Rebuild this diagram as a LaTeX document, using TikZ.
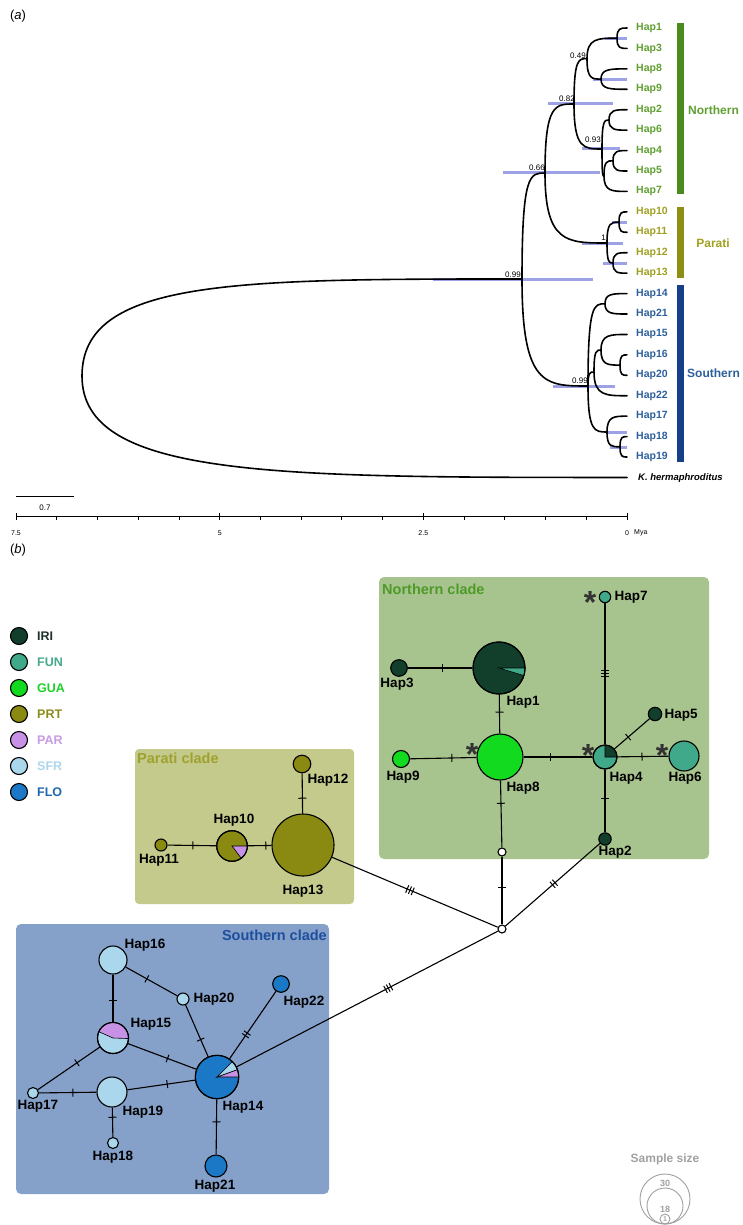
\documentclass[tikz,border=0pt]{standalone}
\usepackage{fontspec}
\setmainfont{Liberation Sans}
\usetikzlibrary{calc,decorations.markings}
\pgfdeclarelayer{bg}
\pgfdeclarelayer{edges}
\pgfsetlayers{bg,edges,main}
\definecolor{cIRI}{HTML}{123F2B}
\definecolor{cFUN}{HTML}{3FA98A}
\definecolor{cGUA}{HTML}{12DA1E}
\definecolor{cPRT}{HTML}{8A8A12}
\definecolor{cPAR}{HTML}{C791E6}
\definecolor{cSFR}{HTML}{AAD7EC}
\definecolor{cFLO}{HTML}{1B78C6}
\definecolor{nTxt}{HTML}{5FA030}
\definecolor{nBar}{HTML}{4C8A1E}
\definecolor{pTxt}{HTML}{A0A020}
\definecolor{pBar}{HTML}{8E8E14}
\definecolor{sTxt}{HTML}{2D5F9B}
\definecolor{sBar}{HTML}{153F88}
\definecolor{hpdc}{HTML}{8C90E2}
\definecolor{boxN}{HTML}{A8C48E}
\definecolor{boxP}{HTML}{C4C98C}
\definecolor{boxS}{HTML}{86A1C9}
\definecolor{ttlN}{HTML}{4E9A28}
\definecolor{ttlP}{HTML}{9FA12E}
\definecolor{ttlS}{HTML}{1D4F9E}
\definecolor{gry}{HTML}{A0A0A0}
\definecolor{lIRI}{HTML}{1F2F2A}
\definecolor{lFUN}{HTML}{46A88C}
\definecolor{lGUA}{HTML}{1ED12A}
\definecolor{lPRT}{HTML}{8C8C1C}
\definecolor{lPAR}{HTML}{C99BE0}
\definecolor{lSFR}{HTML}{ACD6EA}
\definecolor{lFLO}{HTML}{1F67AD}
\newcommand\treebr[2]{\draw[tree] (#1) .. controls (#1 |- #2) and ($(#1 |- #2)!0.35!(#2)$) .. (#2);}
\tikzset{
  tree/.style={line width=1.6pt, line cap=round},
  hpd/.style={line width=3pt, hpdc, opacity=0.85},
  tiplab/.style={anchor=west, inner sep=0pt, font=\fontsize{10.5}{12}\selectfont\bfseries},
  pp/.style={anchor=east, inner sep=0pt, font=\fontsize{8}{9}\selectfont},
  cladelab/.style={inner sep=0pt, font=\fontsize{12}{14}\selectfont\bfseries},
  axlab/.style={inner sep=0pt, font=\fontsize{7}{8}\selectfont},
  hap/.style 2 args={circle, draw=black, line width=1.1pt, fill=#2, minimum size=2*#1, inner sep=0pt},
  hlab/.style={inner sep=0pt, font=\fontsize{13.5}{15}\selectfont\bfseries},
  ttl/.style={inner sep=0pt, font=\fontsize{14.5}{16}\selectfont\bfseries},
  leglab/.style={anchor=west, inner sep=0pt, font=\fontsize{12.5}{14}\selectfont\bfseries},
  astr/.style={anchor=base, inner sep=0pt, text=black!80, font=\fontsize{32}{32}\selectfont\bfseries},
  edge/.style={line width=1.1pt},
  wedge/.style={draw=black, line width=0.6pt},
  onetick/.style={postaction={decorate,decoration={markings,mark=at position #1 with {\draw[line width=1pt] (0pt,-4pt) -- (0pt,4pt);}}}},
  twoticks/.style={postaction={decorate,decoration={markings,mark=at position #1 with {\draw[line width=1pt] (-1.6pt,-4pt) -- (-1.6pt,4pt) (1.6pt,-4pt) -- (1.6pt,4pt);}}}},
  threeticks/.style={postaction={decorate,decoration={markings,mark=at position #1 with {\draw[line width=1pt] (-3pt,-4pt) -- (-3pt,4pt) (0pt,-4pt) -- (0pt,4pt) (3pt,-4pt) -- (3pt,4pt);}}}},
}
\begin{document}
\begin{tikzpicture}[x=1pt,y=-1pt]
\useasboundingbox (0,0) rectangle (742,1225);
% ---------------- (a) tree ----------------
\node[inner sep=0pt, font=\fontsize{13}{15}\selectfont] (pa) at (18,16) {(\textit{a})};
\foreach \i in {0,...,22} \coordinate (t\i) at (627,28+20.43*\i);
\coordinate (n13) at (617,38.2);
\coordinate (n89) at (601,79.1);
\coordinate (n049) at (587,58.6);
\coordinate (n26) at (609,120);
\coordinate (n45) at (613,160.8);
\coordinate (n457) at (604,176);
\coordinate (n093) at (602,149);
\coordinate (n082) at (574,104);
\coordinate (n1011) at (619,222.1);
\coordinate (n1213) at (613,263);
\coordinate (npar) at (607,243);
\coordinate (n066) at (545,173);
\coordinate (n1421) at (605,303.8);
\coordinate (n1620) at (620,365.1);
\coordinate (n15) at (601,350);
\coordinate (nS2) at (594,372);
\coordinate (n1819) at (620,446.8);
\coordinate (n17) at (607,432);
\coordinate (nS) at (588,386);
\coordinate (n099) at (522,279);
\coordinate (root) at (82,376);
% HPD bars
\draw[hpd] (605,38.5) -- (627,38.5);
\draw[hpd] (593,79.5) -- (627,79.5);
\draw[hpd] (548,104) -- (613,104);
\draw[hpd] (582,149) -- (620,149);
\draw[hpd] (503,173) -- (600,173);
\draw[hpd] (612,222.5) -- (627,222.5);
\draw[hpd] (582,243) -- (623,243);
\draw[hpd] (603,263) -- (627,263);
\draw[hpd] (433,279) -- (593,279);
\draw[hpd] (553,386) -- (615,386);
\draw[hpd] (607,432.5) -- (627,432.5);
\draw[hpd] (610,447.5) -- (627,447.5);
% branches
\treebr{n13}{t0}\treebr{n13}{t1}
\treebr{n89}{t2}\treebr{n89}{t3}
\treebr{n049}{n13}\treebr{n049}{n89}
\treebr{n26}{t4}\treebr{n26}{t5}
\treebr{n45}{t6}\treebr{n45}{t7}
\treebr{n457}{n45}\treebr{n457}{t8}
\treebr{n093}{n26}\treebr{n093}{n457}
\treebr{n082}{n049}\treebr{n082}{n093}
\treebr{n1011}{t9}\treebr{n1011}{t10}
\treebr{n1213}{t11}\treebr{n1213}{t12}
\treebr{npar}{n1011}\treebr{npar}{n1213}
\treebr{n066}{n082}\treebr{n066}{npar}
\treebr{n1421}{t13}\treebr{n1421}{t14}
\treebr{n1620}{t16}\treebr{n1620}{t17}
\treebr{n15}{t15}\treebr{n15}{n1620}
\treebr{nS2}{n15}\treebr{nS2}{t18}
\treebr{n1819}{t20}\treebr{n1819}{t21}
\treebr{n17}{t19}\treebr{n17}{n1819}
\treebr{nS}{n1421}\treebr{nS}{nS2}\treebr{nS}{n17}
\treebr{n099}{n066}\treebr{n099}{nS}
\treebr{root}{n099}\treebr{root}{t22}
% posterior labels
\node[pp] (p049) at (586,56) {0.49};
\node[pp] (p082) at (575,99) {0.82};
\node[pp] (p093) at (601,140) {0.93};
\node[pp] (p066) at (545,168) {0.66};
\node[pp] (p1) at (606,238) {1};
\node[pp] (p099a) at (521,275) {0.99};
\node[pp] (p099b) at (588,381) {0.99};
% tip labels
\foreach \lab [count=\i from 0] in {Hap1,Hap3,Hap8,Hap9,Hap2,Hap6,Hap4,Hap5,Hap7}
  \node[tiplab, text=nTxt] (L\i) at (636,28+20.43*\i) {\lab};
\foreach \lab [count=\i from 9] in {Hap10,Hap11,Hap12,Hap13}
  \node[tiplab, text=pTxt] (L\i) at (636,28+20.43*\i) {\lab};
\foreach \lab [count=\i from 13] in {Hap14,Hap21,Hap15,Hap16,Hap20,Hap22,Hap17,Hap18,Hap19}
  \node[tiplab, text=sTxt] (L\i) at (636,28+20.43*\i) {\lab};
\node[anchor=west, inner sep=0pt, font=\fontsize{9.5}{11}\selectfont\bfseries\itshape] (L22) at (638,478) {K. hermaphroditus};
% clade bars
\fill[nBar] (677,23) rectangle (684,194);
\fill[pBar] (677,207) rectangle (684,278);
\fill[sBar] (677,285) rectangle (684,462);
\node[cladelab, text=nTxt, anchor=west] (cN) at (688,110) {Northern};
\node[cladelab, text=pTxt] (cP) at (713,243) {Parati};
\node[cladelab, text=sTxt, anchor=west] (cS) at (687,373) {Southern};
% scale bar and axis
\draw[line width=0.8pt] (16,496) -- (74,496);
\node[inner sep=0pt, font=\fontsize{8}{9}\selectfont] (sb) at (45,508) {0.7};
\draw[line width=0.8pt] (16,516) -- (627,516);
\foreach \i in {0,...,15} \draw[line width=0.8pt] (627-40.733*\i,516) -- ++(0,3.5);
\foreach \i in {0,5,10,15} \draw[line width=0.8pt] (627-40.733*\i,513) -- ++(0,7);
\node[axlab] (ax0) at (627,533) {0};
\node[axlab] (ax1) at (423.3,533) {2.5};
\node[axlab] (ax2) at (219.7,533) {5};
\node[axlab] (ax3) at (16,533) {7.5};
\node[axlab, anchor=west] (axm) at (634,533) {Mya};
% ---------------- (b) network ----------------
\node[inner sep=0pt, font=\fontsize{13}{15}\selectfont] (pb) at (18,550) {(\textit{b})};
% legend
\node[hap={8.5}{cIRI}] (gIRI) at (19,636) {};
\node[hap={8.5}{cFUN}] (gFUN) at (19,662) {};
\node[hap={8.5}{cGUA}] (gGUA) at (19,688) {};
\node[hap={8.5}{cPRT}] (gPRT) at (19,714) {};
\node[hap={8.5}{cPAR}] (gPAR) at (19,740) {};
\node[hap={8.5}{cSFR}] (gSFR) at (19,766) {};
\node[hap={8.5}{cFLO}] (gFLO) at (19,792) {};
\node[leglab, text=lIRI] (tIRI) at (37,636) {IRI};
\node[leglab, text=lFUN] (tFUN) at (37,662) {FUN};
\node[leglab, text=lGUA] (tGUA) at (37,688) {GUA};
\node[leglab, text=lPRT] (tPRT) at (37,714) {PRT};
\node[leglab, text=lPAR] (tPAR) at (37,740) {PAR};
\node[leglab, text=lSFR] (tSFR) at (37,766) {SFR};
\node[leglab, text=lFLO] (tFLO) at (37,792) {FLO};
% clade boxes
\begin{pgfonlayer}{bg}
\fill[boxN, rounded corners=5pt] (379,577) rectangle (709,859);
\fill[boxP, rounded corners=4pt] (135,749) rectangle (354,904);
\fill[boxS, rounded corners=5pt] (16,924) rectangle (329,1194);
\end{pgfonlayer}
\node[ttl, text=ttlN, anchor=west] (tN) at (382,589) {Northern clade};
\node[ttl, text=ttlP, anchor=west] (tP) at (137,758) {Parati clade};
\node[ttl, text=ttlS, anchor=east] (tS) at (327,935) {Southern clade};
% haplotype nodes
\node[hap={26}{cIRI}] (h1) at (499,668) {};
\node[hap={8.3}{cIRI}] (h3) at (399,668) {};
\node[hap={23}{cGUA}] (h8) at (500,757) {};
\node[hap={8.5}{cGUA}] (h9) at (401,759) {};
\node[hap={12}{cFUN}] (h4) at (605,757) {};
\node[hap={15}{cFUN}] (h6) at (684,756) {};
\node[hap={6.7}{cIRI}] (h5) at (655,714) {};
\node[hap={5.7}{cFUN}] (h7) at (605,597) {};
\node[hap={6.2}{cIRI}] (h2) at (605,839) {};
\node[hap={4}{white}] (mv1) at (502,852) {};
\node[hap={4}{white}] (mvc) at (502,929) {};
\node[hap={8.8}{cPRT}] (h12) at (302,764) {};
\node[hap={31}{cPRT}] (h13) at (303,845) {};
\node[hap={15.3}{cPRT}] (h10) at (232,846) {};
\node[hap={6}{cPRT}] (h11) at (161,845) {};
\node[hap={14}{cSFR}] (h16) at (113,960) {};
\node[hap={6}{cSFR}] (h20) at (183,999) {};
\node[hap={8.3}{cFLO}] (h22) at (281,984) {};
\node[hap={15.5}{cSFR}] (h15) at (113,1038) {};
\node[hap={21.7}{cFLO}] (h14) at (217,1077) {};
\node[hap={5.5}{cSFR}] (h17) at (33,1093) {};
\node[hap={15}{cSFR}] (h19) at (112,1092) {};
\node[hap={5.5}{cSFR}] (h18) at (113,1143) {};
\node[hap={11}{cFLO}] (h21) at (216,1166) {};
% pie wedges
\filldraw[wedge, fill=cFUN] (h1.center) -- ++(0:26) arc[start angle=0, end angle=17, radius=26] -- cycle;
\filldraw[wedge, fill=cIRI] (h4.center) -- ++(-90:12) arc[start angle=-90, end angle=0, radius=12] -- cycle;
\filldraw[wedge, fill=cPAR] (h10.center) -- ++(0:15.3) arc[start angle=0, end angle=53, radius=15.3] -- cycle;
\filldraw[wedge, fill=cPAR] (h15.center) -- ++(-156:15.5) arc[start angle=-156, end angle=2, radius=15.5] -- cycle;
\filldraw[wedge, fill=cPAR] (h14.center) -- ++(-20:21.7) arc[start angle=-20, end angle=0, radius=21.7] -- cycle;
\filldraw[wedge, fill=cSFR] (h14.center) -- ++(-45:21.7) arc[start angle=-45, end angle=-20, radius=21.7] -- cycle;
\draw[line width=1.1pt] (h1.center) circle[radius=26];
\draw[line width=1.1pt] (h4.center) circle[radius=12];
\draw[line width=1.1pt] (h10.center) circle[radius=15.3];
\draw[line width=1.1pt] (h15.center) circle[radius=15.5];
\draw[line width=1.1pt] (h14.center) circle[radius=21.7];
% asterisks
\node[astr] (s8) at (472,765) {*};
\node[astr] (s4) at (588,766) {*};
\node[astr] (s6) at (662,766) {*};
\node[astr] (s7) at (590,613) {*};
% haplotype labels
\node[hlab] (lh1) at (523,702) {Hap1};
\node[hlab] (lh3) at (397,684) {Hap3};
\node[hlab] (lh8) at (523,788) {Hap8};
\node[hlab] (lh9) at (403,777) {Hap9};
\node[hlab] (lh4) at (626,778) {Hap4};
\node[hlab] (lh6) at (685,778) {Hap6};
\node[hlab] (lh5) at (681,715) {Hap5};
\node[hlab] (lh7) at (631,597) {Hap7};
\node[hlab] (lh2) at (615,852) {Hap2};
\node[hlab] (lh12) at (328,780) {Hap12};
\node[hlab] (lh13) at (303,891) {Hap13};
\node[hlab] (lh10) at (234,820) {Hap10};
\node[hlab] (lh11) at (159,860) {Hap11};
\node[hlab] (lh16) at (145,945) {Hap16};
\node[hlab] (lh20) at (214,999) {Hap20};
\node[hlab] (lh22) at (304,1002) {Hap22};
\node[hlab] (lh15) at (151,1024) {Hap15};
\node[hlab] (lh14) at (243,1107) {Hap14};
\node[hlab] (lh17) at (38,1106) {Hap17};
\node[hlab] (lh19) at (143,1112) {Hap19};
\node[hlab] (lh18) at (113,1157) {Hap18};
\node[hlab] (lh21) at (215,1186) {Hap21};
% edges
\begin{pgfonlayer}{edges}
\draw[edge, onetick=0.53] (h3) -- (h1);
\draw[edge, onetick=0.45] (h1) -- (h8);
\draw[edge, onetick=0.63] (h9) -- (h8);
\draw[edge, onetick=0.39] (h8) -- (h4);
\draw[edge, threeticks=0.5] (h4) -- (h7);
\draw[edge, onetick=0.39] (h4) -- (h5);
\draw[edge, onetick=0.48] (h4) -- (h6);
\draw[edge, onetick=0.46] (h4) -- (h2);
\draw[edge, onetick=0.34] (h8) -- (mv1);
\draw[edge, onetick=0.46] (mv1) -- (mvc);
\draw[edge, twoticks=0.49] (h2) -- (mvc);
\draw[edge, threeticks=0.47] (h13) -- (mvc);
\draw[edge, onetick=0.52] (h11) -- (h10);
\draw[edge, onetick=0.76] (h10) -- (h13);
\draw[edge, onetick=0.62] (h12) -- (h13);
\draw[edge, onetick=0.41] (h16) -- (h20);
\draw[edge, onetick=0.54] (h16) -- (h15);
\draw[edge, onetick=0.67] (h20) -- (h14);
\draw[edge, twoticks=0.64] (h22) -- (h14);
\draw[edge, onetick=0.58] (h15) -- (h14);
\draw[edge, onetick=0.37] (h15) -- (h17);
\draw[edge, onetick=0.59] (h17) -- (h19);
\draw[edge, onetick=0.59] (h19) -- (h14);
\draw[edge, onetick=0.33] (h19) -- (h18);
\draw[edge, onetick=0.41] (h14) -- (h21);
\draw[edge, threeticks=0.58] (h14) -- (mvc);
\end{pgfonlayer}
% sample size legend
\node[inner sep=0pt, text=gry, font=\fontsize{12}{14}\selectfont\bfseries] (sst) at (665,1159) {Sample size};
\node[circle, draw=gry, line width=0.9pt, minimum size=50, inner sep=0pt] (ss30) at (665,1199) {};
\node[circle, draw=gry, line width=0.9pt, minimum size=36, inner sep=0pt] (ss18) at (665,1206) {};
\node[circle, draw=gry, line width=0.9pt, minimum size=10, inner sep=0pt] (ss1) at (665,1219) {};
\node[inner sep=0pt, text=gry, font=\fontsize{9}{10}\selectfont\bfseries] (n30) at (665,1183) {30};
\node[inner sep=0pt, text=gry, font=\fontsize{9}{10}\selectfont\bfseries] (n18) at (665,1209) {18};
\node[inner sep=0pt, text=gry, font=\fontsize{7}{8}\selectfont\bfseries] (n1) at (665,1219) {1};
\end{tikzpicture}
\end{document}
